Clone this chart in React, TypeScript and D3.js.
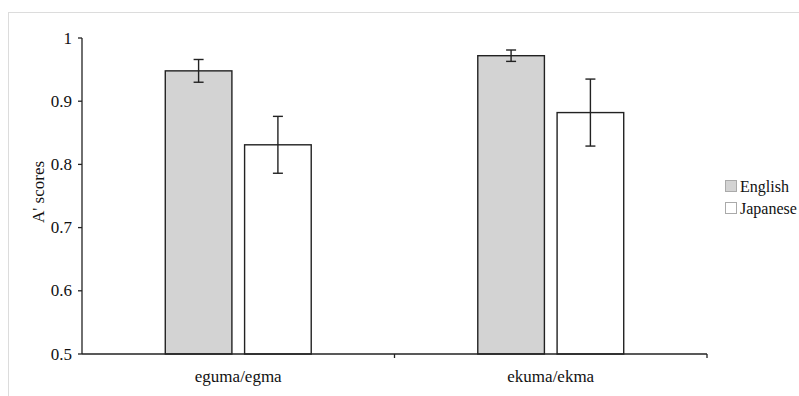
import React from "react";
import * as d3 from "d3";

const categories = ["eguma/egma", "ekuma/ekma"];
const series = ["English", "Japanese"];
const englishValues = [0.948, 0.972];
const englishErrors = [0.018, 0.009];
const japaneseValues = [0.831, 0.882];
const japaneseErrors = [0.045, 0.053];
const yTicks = [0.5, 0.6, 0.7, 0.8, 0.9, 1];
const yTickLabels = ["0.5", "0.6", "0.7", "0.8", "0.9", "1"];
const seriesFills = ["#d3d3d3", "#ffffff"];

const W = 799;
const H = 396;
const left = 82;
const right = 707;
const top = 38;
const bottom = 354;
const font = "Liberation Serif";
const ink = "#222";

export default function App() {
  const x0 = d3.scaleBand<string>().domain(categories).range([left, right]).padding(0);
  const x1 = d3
    .scaleBand<string>()
    .domain(series)
    .range([0, x0.bandwidth()])
    .paddingInner(0.16)
    .paddingOuter(1.05);
  const y = d3.scaleLinear().domain([0.5, 1]).range([bottom, top]);

  const data = series.map((s, si) => ({
    name: s,
    fill: seriesFills[si],
    values: si === 0 ? englishValues : japaneseValues,
    errors: si === 0 ? englishErrors : japaneseErrors,
  }));

  const boundaries = categories.map((c) => (x0(c) as number) + x0.bandwidth());

  return (
    <svg
      width={W}
      height={H}
      style={{ position: "absolute", left: 0, top: 0, background: "#fff" }}
    >
      {/* frame */}
      <line x1={8} y1={12.5} x2={799} y2={12.5} stroke="#dcdcdc" strokeWidth={1} />
      <line x1={8.5} y1={12} x2={8.5} y2={396} stroke="#dcdcdc" strokeWidth={1} />

      {/* bars */}
      {data.map((s) =>
        categories.map((c, ci) => {
          const bx = (x0(c) as number) + (x1(s.name) as number);
          const bw = x1.bandwidth();
          const v = s.values[ci];
          const e = s.errors[ci];
          const cx = bx + bw / 2;
          return (
            <g key={s.name + c}>
              <rect
                x={bx}
                y={y(v)}
                width={bw}
                height={bottom - y(v)}
                fill={s.fill}
                stroke={ink}
                strokeWidth={1.4}
              />
              <line x1={cx} x2={cx} y1={y(v + e)} y2={y(v - e)} stroke={ink} strokeWidth={1.4} />
              <line x1={cx - 5} x2={cx + 5} y1={y(v + e)} y2={y(v + e)} stroke={ink} strokeWidth={1.4} />
              <line x1={cx - 5} x2={cx + 5} y1={y(v - e)} y2={y(v - e)} stroke={ink} strokeWidth={1.4} />
            </g>
          );
        })
      )}

      {/* y axis */}
      <line x1={left} x2={left} y1={top} y2={bottom} stroke={ink} strokeWidth={1.3} />
      {yTicks.map((t, i) => (
        <g key={t}>
          <line x1={left - 4} x2={left} y1={y(t)} y2={y(t)} stroke={ink} strokeWidth={1.3} />
          <text x={72} y={y(t)} dy="0.33em" textAnchor="end" fontSize={17} fill="#111" fontFamily={font}>
            {yTickLabels[i]}
          </text>
        </g>
      ))}
      <text
        transform={`translate(${44},${192}) rotate(-90)`}
        textAnchor="middle"
        fontSize={17}
        fill="#111"
        fontFamily={font}
      >
        A' scores
      </text>

      {/* x axis */}
      <line x1={left} x2={right} y1={bottom} y2={bottom} stroke={ink} strokeWidth={1.3} />
      {boundaries.map((bxv, i) => (
        <line key={i} x1={bxv} x2={bxv} y1={bottom} y2={bottom + 4} stroke={ink} strokeWidth={1.3} />
      ))}
      {categories.map((c) => (
        <text
          key={c}
          x={(x0(c) as number) + x0.bandwidth() / 2}
          y={382}
          textAnchor="middle"
          fontSize={17}
          fill="#111"
          fontFamily={font}
        >
          {c}
        </text>
      ))}

      {/* legend */}
      {series.map((s, i) => (
        <g key={s} transform={`translate(725, ${180 + i * 22})`}>
          <rect x={0.5} y={0.5} width={11} height={11} fill={seriesFills[i]} stroke="#aaa" strokeWidth={1} />
          <text x={15} y={11.5} fontSize={16} fill="#111" fontFamily={font}>
            {s}
          </text>
        </g>
      ))}
    </svg>
  );
}
